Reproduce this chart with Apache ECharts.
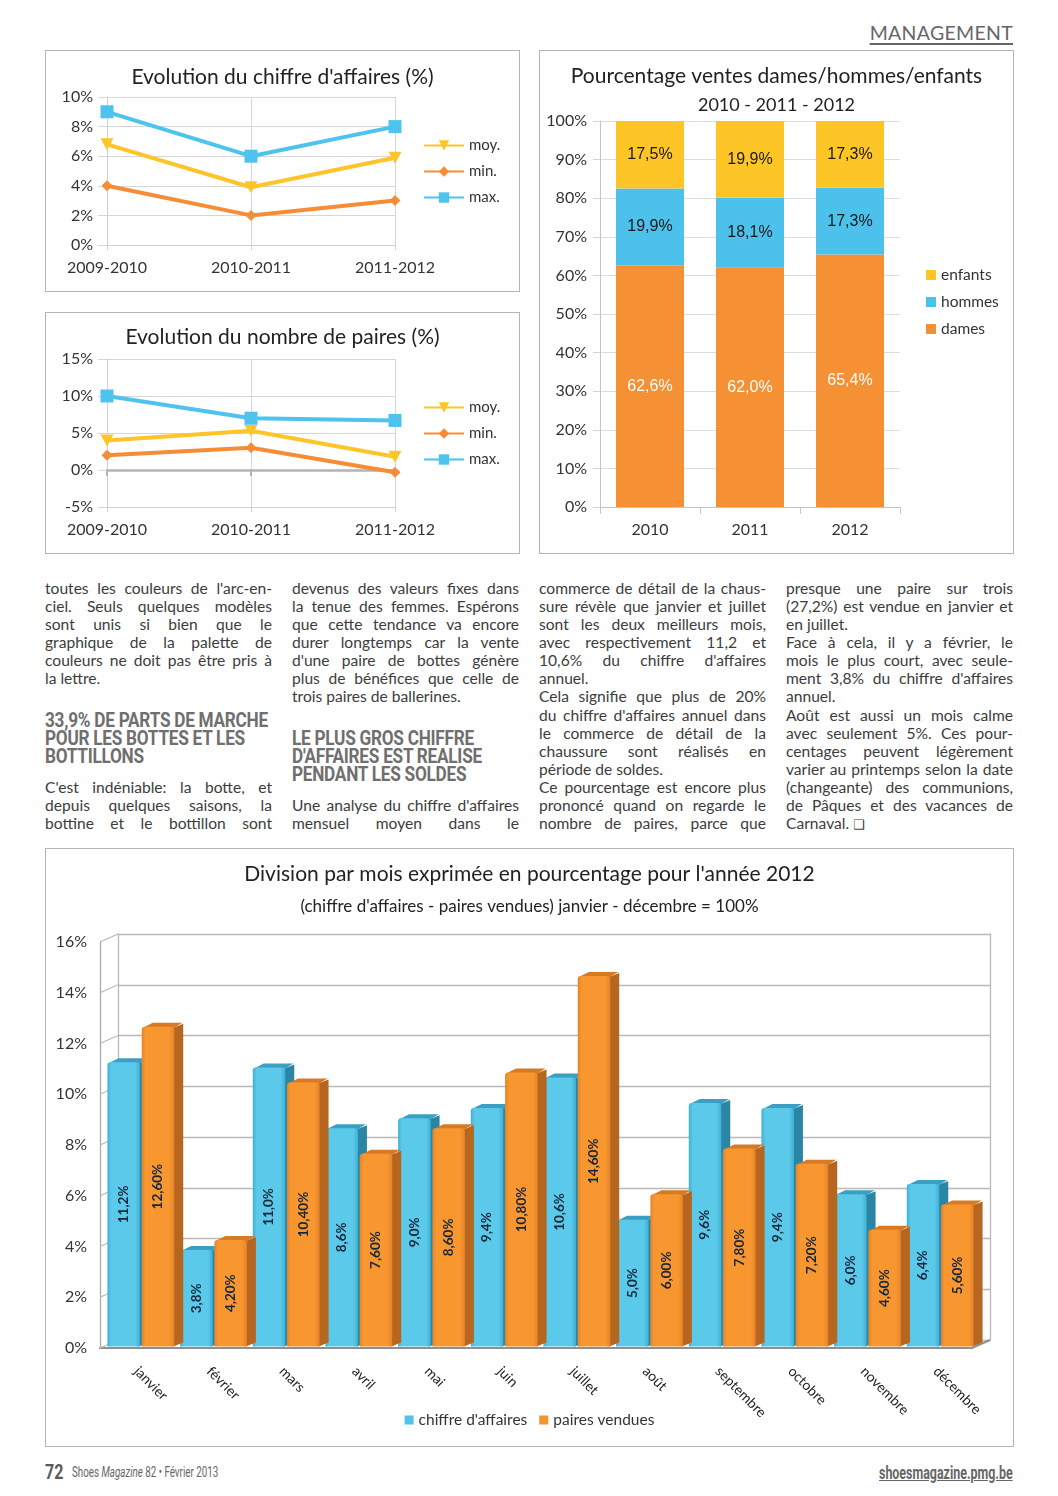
<!DOCTYPE html>
<html><head><meta charset="utf-8">
<script src="https://cdn.jsdelivr.net/npm/echarts@6/dist/echarts.min.js"></script>
<style>
html,body{margin:0;padding:0;background:#fff;}
#page{position:relative;width:1058px;height:1496px;overflow:hidden;font-family:Lato,"Noto Sans",sans-serif;color:#3a3a3a;}
.box{position:absolute;border:1px solid #b4b4b4;box-sizing:border-box;}
.chart{position:absolute;left:0;top:0;width:100%;height:100%;}
.col{position:absolute;width:227px;font-size:15.6px;line-height:18.08px;color:#3c3c3c;}
.col div{white-space:nowrap;height:18.08px;}
.j{text-align:justify;text-align-last:justify;}
.h{position:absolute;width:270px;font-family:Roboto,"Noto Sans",sans-serif;font-weight:700;font-size:20px;line-height:18px;color:#6f6f6f;transform:scaleX(0.86);transform-origin:left top;letter-spacing:-0.3px;}
.h div{white-space:nowrap;height:18px;}
</style></head>
<body><div id="page">
<div style="position:absolute;right:45px;top:21px;font-size:19.5px;color:#666;text-decoration:underline;text-decoration-thickness:1.5px;text-underline-offset:3px;letter-spacing:0.3px;">MANAGEMENT</div>

<div class="box" style="left:45px;top:50px;width:475px;height:242px;"><div id="c1" class="chart"></div></div>
<div class="box" style="left:45px;top:312px;width:475px;height:242px;"><div id="c2" class="chart"></div></div>
<div class="box" style="left:539px;top:50px;width:475px;height:504px;"><div id="c3" class="chart"></div></div>

<div class="col" style="left:45px;top:579px;">
<div class="j">toutes les couleurs de l'arc-en-</div>
<div class="j">ciel. Seuls quelques modèles</div>
<div class="j">sont unis si bien que le</div>
<div class="j">graphique de la palette de</div>
<div class="j">couleurs ne doit pas être pris à</div>
<div>la lettre.</div>
</div>
<div class="h" style="left:45px;top:711px;">
<div>33,9% DE PARTS DE MARCHE</div>
<div>POUR LES BOTTES ET LES</div>
<div>BOTTILLONS</div>
</div>
<div class="col" style="left:45px;top:778px;">
<div class="j">C'est indéniable: la botte, et</div>
<div class="j">depuis quelques saisons, la</div>
<div class="j">bottine et le bottillon sont</div>
</div>

<div class="col" style="left:292px;top:579px;">
<div class="j">devenus des valeurs fixes dans</div>
<div class="j">la tenue des femmes. Espérons</div>
<div class="j">que cette tendance va encore</div>
<div class="j">durer longtemps car la vente</div>
<div class="j">d'une paire de bottes génère</div>
<div class="j">plus de bénéfices que celle de</div>
<div>trois paires de ballerines.</div>
</div>
<div class="h" style="left:292px;top:729px;">
<div>LE PLUS GROS CHIFFRE</div>
<div>D'AFFAIRES EST REALISE</div>
<div>PENDANT LES SOLDES</div>
</div>
<div class="col" style="left:292px;top:796px;">
<div class="j">Une analyse du chiffre d'affaires</div>
<div class="j">mensuel moyen dans le</div>
</div>

<div class="col" style="left:539px;top:579px;">
<div class="j">commerce de détail de la chaus-</div>
<div class="j">sure révèle que janvier et juillet</div>
<div class="j">sont les deux meilleurs mois,</div>
<div class="j">avec respectivement 11,2 et</div>
<div class="j">10,6% du chiffre d'affaires</div>
<div>annuel.</div>
<div class="j">Cela signifie que plus de 20%</div>
<div class="j">du chiffre d'affaires annuel dans</div>
<div class="j">le commerce de détail de la</div>
<div class="j">chaussure sont réalisés en</div>
<div>période de soldes.</div>
<div class="j">Ce pourcentage est encore plus</div>
<div class="j">prononcé quand on regarde le</div>
<div class="j">nombre de paires, parce que</div>
</div>

<div class="col" style="left:786px;top:579px;">
<div class="j">presque une paire sur trois</div>
<div class="j">(27,2%) est vendue en janvier et</div>
<div>en juillet.</div>
<div class="j">Face à cela, il y a février, le</div>
<div class="j">mois le plus court, avec seule-</div>
<div class="j">ment 3,8% du chiffre d'affaires</div>
<div>annuel.</div>
<div class="j">Août est aussi un mois calme</div>
<div class="j">avec seulement 5%. Ces pour-</div>
<div class="j">centages peuvent légèrement</div>
<div class="j">varier au printemps selon la date</div>
<div class="j">(changeante) des communions,</div>
<div class="j">de Pâques et des vacances de</div>
<div>Carnaval. <span style="font-family:'DejaVu Sans';font-size:13px;">❑</span></div>
</div>

<div class="box" style="left:45px;top:848px;width:969px;height:599px;"><div id="c4" class="chart"></div></div>

<div style="position:absolute;left:45px;top:1460px;height:26px;white-space:nowrap;color:#5a5a5a;">
<span style="display:inline-block;font-family:Roboto;font-weight:700;font-size:20px;transform:scaleX(0.8);transform-origin:left center;">72</span><span style="display:inline-block;position:absolute;left:27px;top:4px;font-family:Roboto;font-size:14px;transform:scaleX(0.70);transform-origin:left center;color:#666;">Shoes <i>Magazine</i> 82 • Février 2013</span>
</div>
<div style="position:absolute;right:45px;top:1462px;white-space:nowrap;color:#666;">
<span style="display:inline-block;font-family:Roboto;font-weight:700;font-size:18px;text-decoration:underline;transform:scaleX(0.69);transform-origin:right center;">shoesmagazine.pmg.be</span>
</div>
</div>

<script>
// ---------- data ----------
const periods = ['2009-2010', '2010-2011', '2011-2012'];
const caMoy = [6.8, 3.9, 5.9];
const caMin = [4.0, 2.0, 3.0];
const caMax = [9.0, 6.0, 8.0];
const prMoy = [4.0, 5.3, 1.8];
const prMin = [2.0, 3.0, -0.3];
const prMax = [10.0, 7.0, 6.7];

const years = ['2010', '2011', '2012'];
const dames = [62.6, 62.0, 65.4];
const hommes = [19.9, 18.1, 17.3];
const enfants = [17.5, 19.9, 17.3];

const months = ['janvier', 'février', 'mars', 'avril', 'mai', 'juin', 'juillet', 'août', 'septembre', 'octobre', 'novembre', 'décembre'];
const chiffre = [11.2, 3.8, 11.0, 8.6, 9.0, 9.4, 10.6, 5.0, 9.6, 9.4, 6.0, 6.4];
const paires = [12.6, 4.2, 10.4, 7.6, 8.6, 10.8, 14.6, 6.0, 7.8, 7.2, 4.6, 5.6];
const monthTicks = [0, 2, 4, 6, 8, 10, 12, 14, 16];

// ---------- styles ----------
const FONT = 'Lato';
const C_YEL = '#fdc52a', C_ORA = '#f58d37', C_BLU = '#4dc3ee';
const txt = '#333';
const triDown = 'path://M0,0 L12,0 L6,11 Z';

function lineChart(id, title, titleTop, yMin, yMax, step, moy, mn, mx, zeroAxis) {
  const ch = echarts.init(document.getElementById(id));
  const xAxes = [{
    type: 'category', data: periods, boundaryGap: false,
    axisLine: { onZero: false, lineStyle: { color: '#cfcfcf' } },
    axisTick: { show: true, length: 5, lineStyle: { color: '#cfcfcf' } },
    axisLabel: { color: txt, fontFamily: FONT, fontSize: 16, margin: 15 },
    splitLine: { show: true, lineStyle: { color: '#d6d6d6' } }
  }];
  if (zeroAxis) {
    xAxes.push({
      type: 'category', data: periods, boundaryGap: false, position: 'bottom',
      axisLine: { onZero: true, lineStyle: { color: '#b4b4b4', width: 2.5 } },
      axisTick: { show: true, length: 6, lineStyle: { color: '#b4b4b4', width: 2 } },
      axisLabel: { show: false }, splitLine: { show: false }
    });
  }
  const mk = (name, data, color, symbol, size) => ({
    name, type: 'line', data, xAxisIndex: 0, symbol, symbolSize: size,
    lineStyle: { color, width: 4 }, itemStyle: { color }, z: 3, animation: false
  });
  ch.setOption({
    animation: false,
    title: { text: title, left: 'center', top: titleTop, padding: 0,
      textStyle: { fontFamily: FONT, fontSize: 21, fontWeight: 'normal', color: '#222', lineHeight: 25 } },
    grid: { left: 61, top: 46, width: 288, height: 148 },
    legend: {
      orient: 'vertical', left: 377, top: 87, padding: 0, itemWidth: 40, itemHeight: 13, itemGap: 11,
      data: ['moy.', 'min.', 'max.'],
      textStyle: { fontFamily: FONT, fontSize: 15, color: txt }
    },
    xAxis: xAxes,
    yAxis: {
      type: 'value', min: yMin, max: yMax, interval: step,
      axisLine: { show: true, lineStyle: { color: '#cfcfcf' } },
      axisTick: { show: true, length: 9, lineStyle: { color: '#d6d6d6' } },
      axisLabel: { color: txt, fontFamily: FONT, fontSize: 16, margin: 14, formatter: '{value}%' },
      splitLine: { lineStyle: { color: '#d6d6d6' } }
    },
    series: [
      mk('moy.', moy, C_YEL, triDown, [13, 12]),
      mk('min.', mn, C_ORA, 'diamond', 11),
      mk('max.', mx, C_BLU, 'rect', 13)
    ]
  });
}

lineChart('c1', "Evolution du chiffre d'affaires (%)", 14, 0, 10, 2, caMoy, caMin, caMax, false);
lineChart('c2', 'Evolution du nombre de paires (%)', 12, -5, 15, 5, prMoy, prMin, prMax, true);

// ---------- stacked chart ----------
(function () {
  const ch = echarts.init(document.getElementById('c3'));
  const fmt = p => p.value.toFixed(1).replace('.', ',') + '%';
  const bar = (name, data, color, lblColor) => ({
    name, type: 'bar', stack: 'all', data, barWidth: 68,
    itemStyle: { color },
    label: { show: true, position: 'inside', formatter: fmt, color: lblColor,
      fontFamily: 'Liberation Sans', fontSize: 16 }
  });
  ch.setOption({
    animation: false,
    title: [
      { text: 'Pourcentage ventes dames/hommes/enfants', left: 'center', top: 13, padding: 0,
        textStyle: { fontFamily: FONT, fontSize: 21, fontWeight: 'normal', color: '#222', lineHeight: 25 } },
      { text: '2010 - 2011 - 2012', left: 'center', top: 43, padding: 0,
        textStyle: { fontFamily: FONT, fontSize: 18, fontWeight: 'normal', color: '#222', lineHeight: 22 } }
    ],
    grid: { left: 60, top: 70, width: 300, height: 386 },
    legend: {
      orient: 'vertical', left: 386, top: 216, padding: 0, itemWidth: 10, itemHeight: 10, itemGap: 11,
      icon: 'rect', data: ['enfants', 'hommes', 'dames'],
      textStyle: { fontFamily: FONT, fontSize: 15.5, color: txt }
    },
    xAxis: {
      type: 'category', data: years,
      axisLine: { lineStyle: { color: '#c4c4c4' } },
      axisTick: { show: true, length: 7, lineStyle: { color: '#c4c4c4' } },
      axisLabel: { color: txt, fontFamily: FONT, fontSize: 16, margin: 15 }
    },
    yAxis: {
      type: 'value', min: 0, max: 100, interval: 10,
      axisLine: { show: true, lineStyle: { color: '#c4c4c4' } },
      axisTick: { show: true, length: 7, lineStyle: { color: '#d6d6d6' } },
      axisLabel: { color: txt, fontFamily: FONT, fontSize: 16, margin: 13, formatter: '{value}%' },
      splitLine: { lineStyle: { color: '#dcdcdc' } }
    },
    series: [
      bar('dames', dames, '#f59134', '#fff'),
      bar('hommes', hommes, '#4cc1ec', '#1a1a1a'),
      bar('enfants', enfants, '#fdc526', '#1a1a1a')
    ]
  });
})();

// ---------- 3D monthly chart ----------
(function () {
  const ch = echarts.init(document.getElementById('c4'));
  const DX = 18, DY = -8;      // wall depth
  const bx = 9, by = -4;       // bar depth
  function bar3d(side, front, edge, top, sideCol, decimals) {
    return function (params, api) {
      const i = api.value(0), v = api.value(1);
      const base = api.coord([i, 0]);
      const tp = api.coord([i, v]);
      const band = api.size([1, 0])[0];
      const bw = band * 0.447, gap = band * 0.025;
      const x0 = base[0] + (side === 0 ? -(bw + gap / 2) : gap / 2) + 4.5;
      const y0 = base[1] - 1.5, y1 = tp[1] - 1.5;
      const label = v.toFixed(decimals).replace('.', ',') + '%';
      return {
        type: 'group',
        children: [
          { type: 'polygon', shape: { points: [[x0 + bw - 1, y1 + 1], [x0 + bw + bx, y1 + by + 1], [x0 + bw + bx, y0 + by], [x0 + bw - 1, y0]] },
            style: { fill: sideCol } },
          { type: 'polygon', shape: { points: [[x0 + 1, y1 + 1], [x0 + bx + 2, y1 + by], [x0 + bw + bx - 1, y1 + by], [x0 + bw, y1 + 1]] },
            style: { fill: top } },
          { type: 'rect', shape: { x: x0, y: y1, width: bw, height: y0 - y1, r: [3, 3, 0, 0] },
            style: { fill: { type: 'linear', x: 0, y: 0, x2: 1, y2: 0,
              colorStops: [{ offset: 0, color: edge }, { offset: 0.12, color: front }, { offset: 0.85, color: front }, { offset: 1, color: edge }] } } },
          { type: 'text', x: x0 + bw / 2, y: (y0 + y1) / 2, rotation: Math.PI / 2,
            style: { text: label, fill: '#17273a', font: 'bold 13.5px Lato', textAlign: 'center', textVerticalAlign: 'middle', align: 'center', verticalAlign: 'middle' } }
        ]
      };
    };
  }
  function wall(params, api) {
    const v = api.value(1);
    const p = api.coord([0, v]);
    const band = api.size([1, 0])[0];
    const lx = p[0] - band / 2;
    const kids = [{ type: 'line', shape: { x1: lx, y1: p[1], x2: lx + DX, y2: p[1] + DY }, style: { stroke: '#b9b9b9', lineWidth: 1.3 } }];
    if (v === 0) {
      const q = api.coord([months.length - 1, 0]);
      const rx = q[0] + band / 2;
      kids.push({ type: 'line', shape: { x1: rx, y1: q[1], x2: rx + DX, y2: q[1] + DY }, style: { stroke: '#8f8f8f', lineWidth: 2 } });
    }
    return { type: 'group', children: kids };
  }
  const plainAxisLabel = { color: txt, fontFamily: FONT, fontSize: 16, margin: 13, formatter: '{value}%' };
  ch.setOption({
    animation: false,
    title: [
      { text: "Division par mois exprimée en pourcentage pour l'année 2012", left: 'center', top: 13, padding: 0,
        textStyle: { fontFamily: FONT, fontSize: 21, fontWeight: 'normal', color: '#222', lineHeight: 25 } },
      { text: "(chiffre d'affaires - paires vendues) janvier - décembre = 100%", left: 'center', top: 47, padding: 0,
        textStyle: { fontFamily: FONT, fontSize: 17, fontWeight: 'normal', color: '#222', lineHeight: 21 } }
    ],
    grid: [
      { left: 54, top: 93, width: 872, height: 406 },
      { left: 54 + DX, top: 93 + DY, width: 872, height: 406 }
    ],
    legend: {
      left: 'center', top: 563, padding: 0, itemWidth: 9, itemHeight: 9, itemGap: 12, icon: 'rect',
      data: ["chiffre d'affaires", 'paires vendues'],
      textStyle: { fontFamily: FONT, fontSize: 15.5, color: txt }
    },
    xAxis: [
      { gridIndex: 0, type: 'category', data: months,
        axisLine: { lineStyle: { color: '#8f8f8f', width: 2 } }, axisTick: { show: false },
        axisLabel: { rotate: -45, color: '#222', fontFamily: FONT, fontSize: 14, margin: 21, interval: 0 } },
      { gridIndex: 1, type: 'category', data: months, show: false }
    ],
    yAxis: [
      { gridIndex: 0, type: 'value', min: 0, max: 16, interval: 2,
        axisLine: { show: true, lineStyle: { color: '#a9a9a9', width: 1.3 } }, axisTick: { show: false },
        axisLabel: plainAxisLabel, splitLine: { show: false } },
      { gridIndex: 1, type: 'value', min: 0, max: 16, interval: 2,
        axisLine: { show: true, lineStyle: { color: '#b9b9b9', width: 1.3 } }, axisTick: { show: false },
        axisLabel: { show: false }, splitLine: { lineStyle: { color: '#b9b9b9', width: 1.3 } } },
      { gridIndex: 1, type: 'value', min: 0, max: 16, interval: 2, position: 'right',
        axisLine: { show: true, lineStyle: { color: '#b9b9b9', width: 1.3 } }, axisTick: { show: false },
        axisLabel: { show: false }, splitLine: { show: false } }
    ],
    series: [
      { name: 'wall', type: 'custom', xAxisIndex: 0, yAxisIndex: 0, silent: true, z: 1,
        renderItem: wall, encode: { x: 0, y: 1 }, data: monthTicks.map(v => [0, v]) },
      { name: "chiffre d'affaires", type: 'custom', xAxisIndex: 0, yAxisIndex: 0, z: 3,
        itemStyle: { color: '#4fc3ea' },
        renderItem: bar3d(0, '#5bc9ea', '#3fb0d4', '#3a9fc2', '#2b86a6', 1),
        encode: { x: 0, y: 1 }, data: chiffre.map((v, i) => [i, v]) },
      { name: 'paires vendues', type: 'custom', xAxisIndex: 0, yAxisIndex: 0, z: 3,
        itemStyle: { color: '#f7932f' },
        renderItem: bar3d(1, '#f8962f', '#e6842a', '#d67a25', '#b6661f', 2),
        encode: { x: 0, y: 1 }, data: paires.map((v, i) => [i, v]) }
    ]
  });
})();
</script>
</body></html>
